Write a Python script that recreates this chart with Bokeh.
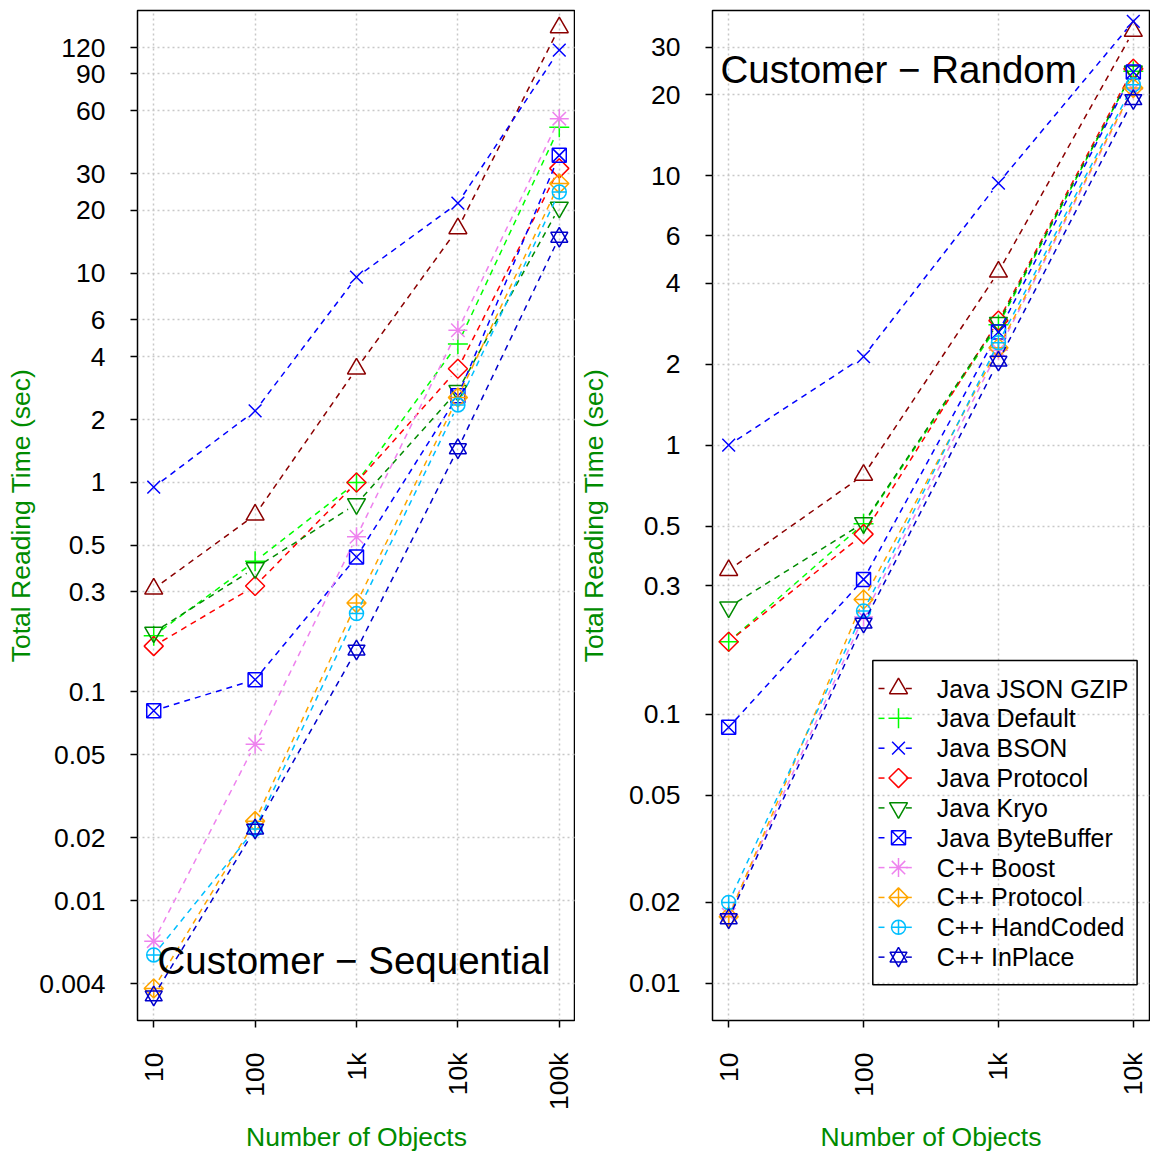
import math
import numpy as np
from bokeh.plotting import figure
from bokeh.layouts import row
from bokeh.models import Range1d, FixedTicker, Label
from bokeh.core.properties import value
from bokeh.embed import file_html
from bokeh.resources import INLINE

# ---------------------------------------------------------------- data
series_names = ["Java JSON GZIP", "Java Default", "Java BSON", "Java Protocol",
                "Java Kryo", "Java ByteBuffer", "C++ Boost", "C++ Protocol",
                "C++ HandCoded", "C++ InPlace"]

# sequential reads: total reading time (sec) per number of objects
seq_objects = [10, 100, 1000, 10000, 100000]
seq_json_gzip = [0.31, 0.70, 3.5, 16.4, 150]
seq_default = [0.185, 0.42, 1.0, 4.6, 50]
seq_bson = [0.95, 2.2, 9.6, 21.7, 117]
seq_protocol = [0.165, 0.32, 1.0, 3.5, 31.8]
seq_kryo = [0.192, 0.39, 0.79, 2.75, 20.7]
seq_bytebuffer = [0.081, 0.114, 0.44, 2.6, 36.7]
seq_boost = [0.0064, 0.056, 0.55, 5.35, 55]
seq_cpp_protocol = [0.0038, 0.024, 0.265, 2.55, 26.9]
seq_handcoded = [0.0055, 0.022, 0.236, 2.35, 24.5]
seq_inplace = [0.0035, 0.022, 0.158, 1.45, 14.9]

# random reads
rand_objects = [10, 100, 1000, 10000]
rand_json_gzip = [0.343, 0.774, 4.4, 34.5]
rand_default = [0.186, 0.51, 2.8, 24.5]
rand_bson = [1.0, 2.13, 9.4, 37.5]
rand_protocol = [0.186, 0.467, 2.9, 25.0]
rand_kryo = [0.25, 0.514, 2.85, 24.5]
rand_bytebuffer = [0.0895, 0.317, 2.63, 24.3]
rand_boost = [0.018, 0.23, 2.25, 21.0]
rand_cpp_protocol = [0.0177, 0.267, 2.3, 21.2]
rand_handcoded = [0.020, 0.242, 2.4, 21.8]
rand_inplace = [0.0174, 0.218, 2.05, 19.2]

seq_series = [seq_json_gzip, seq_default, seq_bson, seq_protocol, seq_kryo,
              seq_bytebuffer, seq_boost, seq_cpp_protocol, seq_handcoded, seq_inplace]
rand_series = [rand_json_gzip, rand_default, rand_bson, rand_protocol, rand_kryo,
               rand_bytebuffer, rand_boost, rand_cpp_protocol, rand_handcoded, rand_inplace]

x_tick_values = [10, 100, 1000, 10000, 100000]
x_tick_labels = ["10", "100", "1k", "10k", "100k"]
seq_y_ticks = [0.004, 0.01, 0.02, 0.05, 0.1, 0.3, 0.5, 1, 2, 4, 6, 10, 20, 30, 60, 90, 120]
seq_y_labels = ["0.004", "0.01", "0.02", "0.05", "0.1", "0.3", "0.5", "1", "2", "4",
                "6", "10", "20", "30", "60", "90", "120"]
rand_y_ticks = [0.01, 0.02, 0.05, 0.1, 0.3, 0.5, 1, 2, 4, 6, 10, 20, 30]
rand_y_labels = ["0.01", "0.02", "0.05", "0.1", "0.3", "0.5", "1", "2", "4", "6",
                 "10", "20", "30"]

# ---------------------------------------------------------------- styles
colors = ["#8B0000", "#00FF00", "#0000FF", "#FF0000", "#008B00",
          "#0000FF", "#EE82EE", "#FFA500", "#00BFFF", "#0000CD"]
Q = math.pi / 4
markers = [
    [("triangle", 18, 0)],
    [("cross", 20, 0)],
    [("x", 18, 0)],
    [("square", 13.5, Q)],
    [("inverted_triangle", 18, 0)],
    [("square_x", 14, 0)],
    [("asterisk", 19, 0)],
    [("square_x", 13.5, Q)],
    [("circle_cross", 14, 0)],
    [("triangle", 17, 0), ("inverted_triangle", 17, 0)],
]

FONT = "Liberation Sans"
AXIS_GREEN = "#008B00"
FRAME_H = 1010
GAP = 10  # px left open around each point (lines + points style)

# key box layout, in px from the top-left corner of the plot frame
KEY_LEFT, KEY_RIGHT, KEY_TOP, KEY_BOTTOM = 160.3, 424.6, 650, 974.3
KEY_ROW0, KEY_ROW_STEP = 678, 29.85
KEY_DASH_L, KEY_DASH_R, KEY_DASH_LEN = 166, 193.3, 6
KEY_MARK_X, KEY_TEXT_X = 186, 224.3


class PixelMap:
    """Converts frame pixel offsets to data values on log-log axes."""

    def __init__(self, xr, yr, fw, fh):
        self.lx0, self.lx1 = math.log10(xr.start), math.log10(xr.end)
        self.ly0, self.ly1 = math.log10(yr.start), math.log10(yr.end)
        self.kx = fw / (self.lx1 - self.lx0)
        self.ky = fh / (self.ly1 - self.ly0)

    def to_px(self, xs, ys):
        return ((np.log10(xs) - self.lx0) * self.kx,
                (np.log10(ys) - self.ly0) * self.ky)

    def x(self, px):
        return 10 ** (self.lx0 + px / self.kx)

    def y_up(self, py):
        return 10 ** (self.ly0 + py / self.ky)

    def y_down(self, py):
        return 10 ** (self.ly1 - py / self.ky)


def gapped(xs, ys, pm, gap):
    """Segments between consecutive points, stopped short of each point."""
    sx, sy = pm.to_px(xs, ys)
    out = {"x0": [], "y0": [], "x1": [], "y1": []}
    for i in range(len(xs) - 1):
        dx, dy = sx[i + 1] - sx[i], sy[i + 1] - sy[i]
        d = math.hypot(dx, dy)
        if d <= 2 * gap:
            continue
        ux, uy = dx / d, dy / d
        out["x0"].append(pm.x(sx[i] + ux * gap))
        out["y0"].append(pm.y_up(sy[i] + uy * gap))
        out["x1"].append(pm.x(sx[i + 1] - ux * gap))
        out["y1"].append(pm.y_up(sy[i + 1] - uy * gap))
    return out


def make_panel(xs, series, x_lo, x_hi, y_lo, y_hi, y_ticks, y_labels,
               border_left, frame_w, border_right, label_standoff, xlabel_standoff):
    xr = Range1d(10 ** x_lo, 10 ** x_hi)
    yr = Range1d(10 ** y_lo, 10 ** y_hi)
    p = figure(x_axis_type="log", y_axis_type="log", x_range=xr, y_range=yr,
               frame_width=frame_w, frame_height=FRAME_H,
               min_border_left=border_left, min_border_right=border_right,
               min_border_top=10, min_border_bottom=135,
               output_backend="svg", toolbar_location=None)
    p.background_fill_color = "white"
    p.border_fill_color = "white"
    p.outline_line_color = "black"
    p.outline_line_width = 1.5

    p.xaxis.ticker = FixedTicker(ticks=x_tick_values)
    p.xaxis.major_label_overrides = {v: t for v, t in zip(x_tick_values, x_tick_labels)}
    p.xaxis.major_label_orientation = math.pi / 2
    p.yaxis.ticker = FixedTicker(ticks=y_ticks)
    p.yaxis.major_label_overrides = {v: t for v, t in zip(y_ticks, y_labels)}
    p.xgrid.ticker = FixedTicker(ticks=x_tick_values)
    p.ygrid.ticker = FixedTicker(ticks=y_ticks)

    for ax in (p.xaxis, p.yaxis):
        ax.axis_line_color = None
        ax.major_tick_line_color = "black"
        ax.major_tick_line_width = 1.5
        ax.major_tick_in = 0
        ax.major_tick_out = 7
        ax.minor_tick_line_color = None
        ax.major_label_text_font = FONT
        ax.major_label_text_font_size = "26.5px"
        ax.major_label_text_color = "black"
        ax.major_label_standoff = 25
        ax.axis_label_text_font = FONT
        ax.axis_label_text_font_size = "26.5px"
        ax.axis_label_text_font_style = "normal"
        ax.axis_label_text_color = AXIS_GREEN
    p.xaxis.axis_label = "Number of Objects"
    p.xaxis.axis_label_standoff = xlabel_standoff
    p.yaxis.axis_label = "Total Reading Time (sec)"
    p.yaxis.axis_label_standoff = label_standoff

    for g in (p.xgrid, p.ygrid):
        g.grid_line_color = "#C8C8C8"
        g.grid_line_dash = "2 3"
        g.grid_line_width = 1.5

    pm = PixelMap(xr, yr, frame_w, FRAME_H)
    for ys, col, mk in zip(series, colors, markers):
        seg = gapped(xs, ys, pm, GAP)
        p.segment(x0="x0", y0="y0", x1="x1", y1="y1", source=seg,
                  line_color=col, line_width=1.5, line_dash="6 5")
        for m, s, a in mk:
            p.scatter(xs, ys, marker=m, size=s, angle=a,
                      fill_color=None, line_color=col, line_width=1.5)
    return p, pm


def add_key(p, pm):
    p.quad(left=[pm.x(KEY_LEFT)], right=[pm.x(KEY_RIGHT)],
           top=[pm.y_down(KEY_TOP)], bottom=[pm.y_down(KEY_BOTTOM)],
           fill_color=None, line_color="black", line_width=1.5)
    for i, (name, col, mk) in enumerate(zip(series_names, colors, markers)):
        cy = pm.y_down(KEY_ROW0 + i * KEY_ROW_STEP)
        p.segment(x0=[pm.x(KEY_DASH_L), pm.x(KEY_DASH_R)], y0=[cy, cy],
                  x1=[pm.x(KEY_DASH_L + KEY_DASH_LEN), pm.x(KEY_DASH_R + KEY_DASH_LEN)],
                  y1=[cy, cy], line_color=col, line_width=1.5)
        for m, s, a in mk:
            p.scatter([pm.x(KEY_MARK_X)], [cy], marker=m, size=s, angle=a,
                      fill_color=None, line_color=col, line_width=1.5)
        p.text(x=[pm.x(KEY_TEXT_X)], y=[cy], text=[name], text_font=value(FONT),
               text_font_size="25px", text_color="black", text_baseline="middle")


left, _ = make_panel(seq_objects, seq_series, 0.84, 5.16, -2.5733, 2.2576,
                     seq_y_ticks, seq_y_labels, 137, 438, 0, 0, 9)
right, right_map = make_panel(rand_objects, rand_series, 0.88, 4.12, -2.1375, 1.6144,
                              rand_y_ticks, rand_y_labels, 136, 437, 2, 17, 22)
add_key(right, right_map)

left.add_layout(Label(x=20, y=60, x_units="screen", y_units="screen",
                      text="Customer \u2212 Sequential", text_font=FONT,
                      text_font_size="38.5px", text_color="black",
                      text_baseline="middle"))
right.add_layout(Label(x=8, y=951, x_units="screen", y_units="screen",
                       text="Customer \u2212 Random", text_font=FONT,
                       text_font_size="38.5px", text_color="black",
                       text_baseline="middle"))

layout = row(left, right)
open("out.html", "w").write(file_html(layout, INLINE))
